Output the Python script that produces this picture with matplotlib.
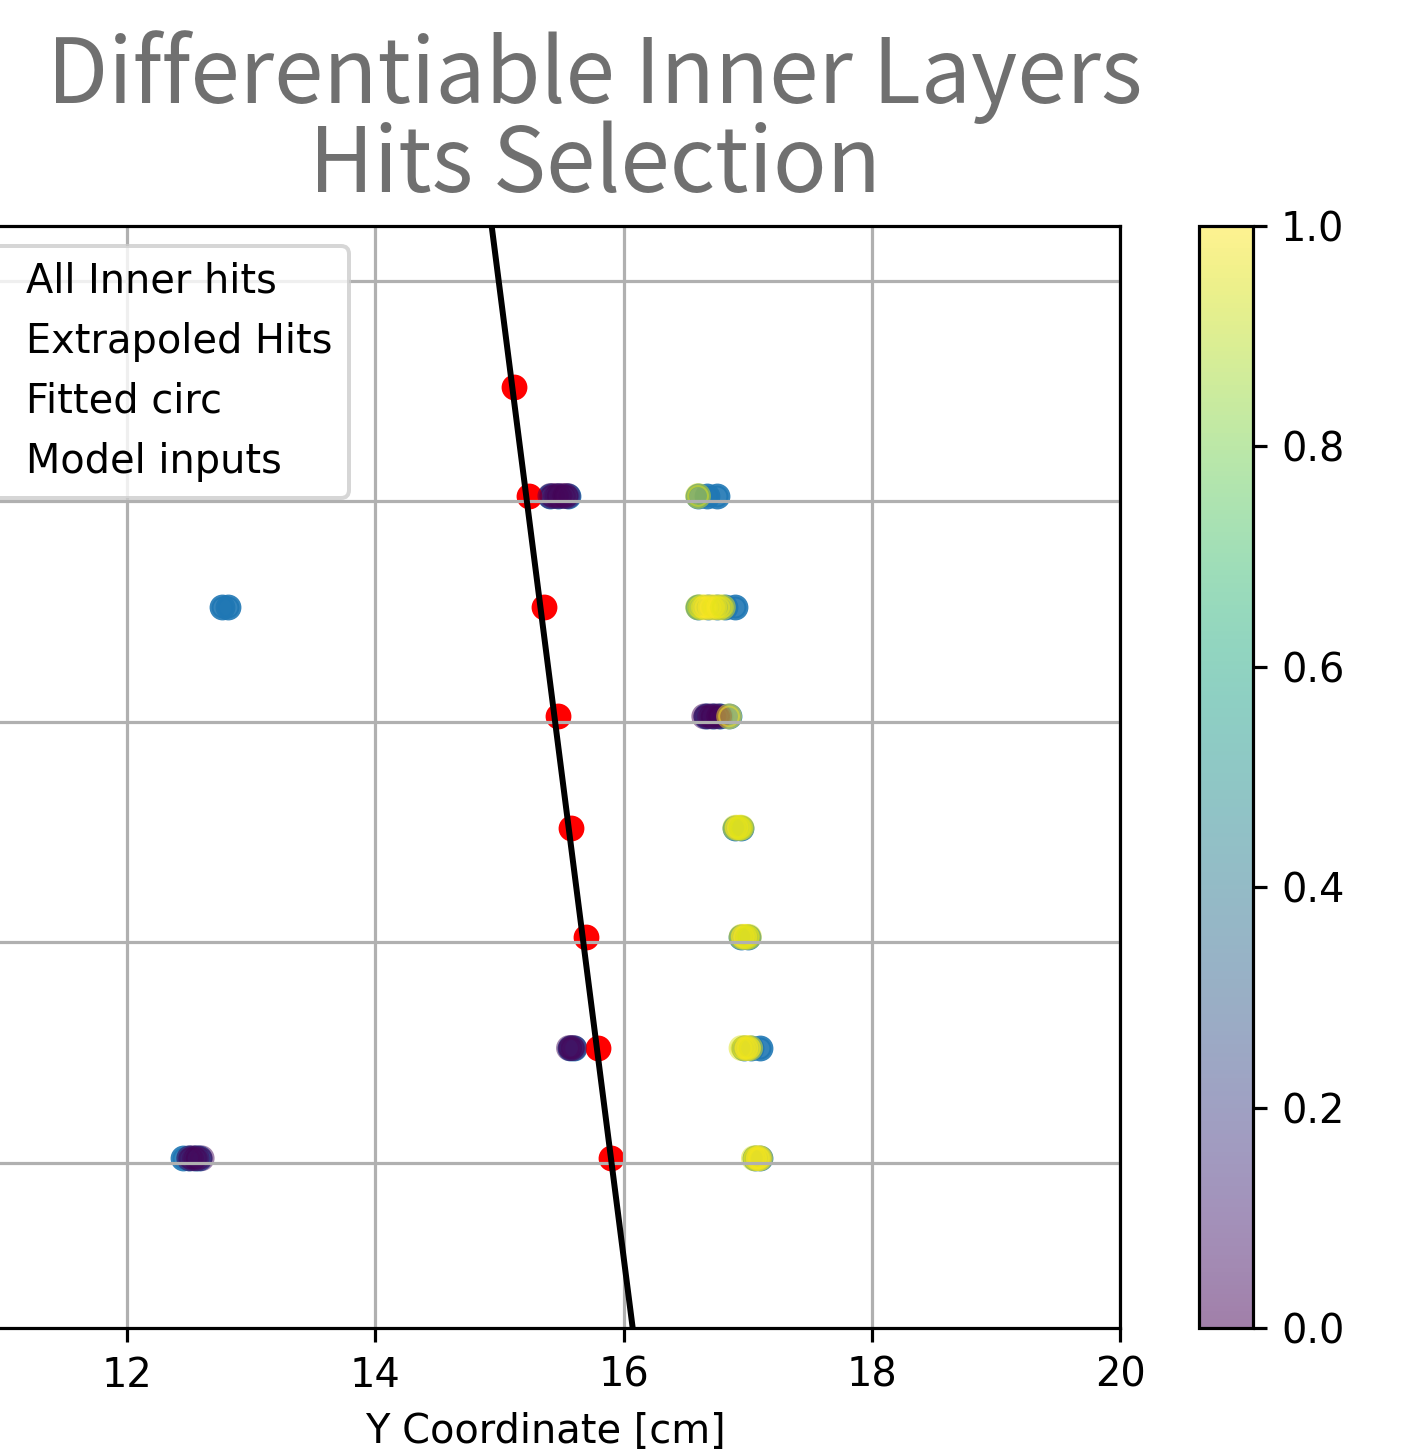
import numpy as np
import matplotlib
matplotlib.use("Agg")
import matplotlib.pyplot as plt

# layers (row positions of the hits)
layer_y = [2.04, 3.04, 4.05, 5.04, 6.05, 7.04, 8.05, 9.04]

# extrapolated hits from the fitted track
extrap_x = [15.90, 15.79, 15.70, 15.58, 15.47, 15.36, 15.24, 15.12]

# fitted circle (large radius, looks like a line in this window)
fit_x = [16.13, 14.88]
fit_y = [0.0, 11.0]

# all inner hits
inner_x = [12.45, 12.50, 12.55, 12.58, 17.06, 17.10,
           15.57, 15.60, 16.97, 17.03, 17.10,
           16.95, 17.00,
           16.90, 16.95,
           16.66, 16.72, 16.78, 16.85,
           12.76, 12.81, 16.60, 16.68, 16.75, 16.82, 16.90,
           15.41, 15.47, 15.55, 16.60, 16.67, 16.75]
inner_y = [2.04] * 6 + [3.04] * 5 + [4.05] * 2 + [5.04] * 2 + [6.05] * 4 + [7.04] * 7 + [8.05] * 6

# hits fed to the model, with their score
model_x = [12.50, 12.53, 12.56, 12.60, 17.05, 17.07, 17.09, 17.10,
           15.56, 15.58, 15.60, 16.95, 16.98, 17.00, 17.02,
           16.95, 16.97, 16.99, 17.01,
           16.90, 16.92, 16.94, 16.95,
           16.65, 16.68, 16.71, 16.74, 16.77, 16.85,
           16.60, 16.63, 16.66, 16.70, 16.73, 16.77, 16.80,
           15.41, 15.44, 15.47, 15.50, 15.53, 15.55, 16.60]
model_y = [2.04] * 8 + [3.04] * 7 + [4.05] * 4 + [5.04] * 4 + [6.05] * 6 + [7.04] * 7 + [8.05] * 7
model_score = [0.0, 0.02, 0.0, 0.03, 0.95, 0.97, 1.0, 0.98,
               0.02, 0.0, 0.03, 0.95, 0.98, 1.0, 0.97,
               0.96, 1.0, 0.98, 0.95,
               0.94, 1.0, 0.97, 0.95,
               0.0, 0.02, 0.0, 0.03, 0.0, 1.0,
               0.93, 0.97, 1.0, 1.0, 0.98, 0.99, 0.96,
               0.0, 0.02, 0.0, 0.03, 0.0, 0.02, 0.95]

W, H, DPI = 1418, 1454, 287
fig = plt.figure(figsize=(W / DPI, H / DPI), dpi=DPI)

# the figure is a crop: the axes starts left of the canvas
ax = fig.add_axes([-121 / W, 126 / H, 1241 / W, 1102 / H])
cax = fig.add_axes([1199 / W, 126 / H, 54 / W, 1102 / H])

ax.scatter(inner_x, inner_y, s=30, color="C0", alpha=0.9, label="All Inner hits")
ax.scatter(extrap_x, layer_y, s=30, color="red", label="Extrapoled Hits")
ax.plot(fit_x, fit_y, color="black", label="Fitted circ")
sc = ax.scatter(model_x, model_y, s=30, c=model_score, cmap="viridis",
                vmin=0, vmax=1, alpha=0.5, label="Model inputs")

ax.set_xlim(10, 20)
ax.set_ylim(0.5, 10.5)
ax.grid(True)
ax.set_xlabel("Y Coordinate [cm]", x=0.537)
ax.legend(loc="upper left")

fig.colorbar(sc, cax=cax)

fig.text(595 / W, 1 - 30 / H, "Differentiable Inner Layers\nHits Selection",
         ha="center", va="top", fontsize=22.3, color="#707070",
         family=["Noto Sans CJK JP", "DejaVu Sans"], linespacing=0.955)

fig.savefig("out.png", dpi=DPI)
